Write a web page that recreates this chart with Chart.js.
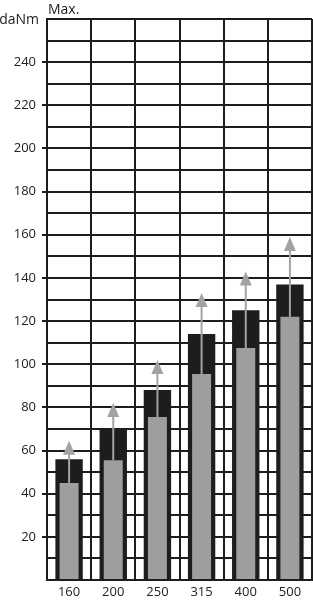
<!DOCTYPE html>
<html>
<head>
<meta charset="utf-8">
<script src="https://cdn.jsdelivr.net/npm/chart.js@4"></script>
<style>
  html, body { margin: 0; padding: 0; background: #fff; }
  #wrap { width: 313px; height: 600px; }
</style>
</head>
<body>
<div id="wrap"><canvas id="torqueChart"></canvas></div>
<script>
const sizes = ['160', '200', '250', '315', '400', '500'];
const maxTorque = [56, 70.5, 88, 114, 125, 137];
const nominalTorque = [45, 55.5, 75.5, 95.5, 107.5, 122];
const peakTorque = [64.5, 82, 102, 133, 143, 159];

const LINE = '#1e1c1d';

// stems + arrowheads from nominal up to peak
const arrowPlugin = {
  id: 'arrows',
  afterDatasetsDraw(chart) {
    const c = chart.ctx, x = chart.scales.x, y = chart.scales.y;
    c.save();
    c.fillStyle = '#a3a3a3';
    c.strokeStyle = '#a3a3a3';
    c.lineWidth = 2;
    peakTorque.forEach((v, i) => {
      const px = x.getPixelForValue(i);
      const top = y.getPixelForValue(v);
      const bottom = y.getPixelForValue(nominalTorque[i]);
      c.beginPath();
      c.moveTo(px, bottom);
      c.lineTo(px, top + 10);
      c.stroke();
      c.beginPath();
      c.moveTo(px, top);
      c.lineTo(px - 6, top + 14);
      c.lineTo(px + 6, top + 14);
      c.closePath();
      c.fill();
    });
    c.restore();
  }
};

const labelPlugin = {
  id: 'labels',
  afterDraw(chart) {
    const c = chart.ctx, a = chart.chartArea;
    c.save();
    c.fillStyle = '#222';
    c.font = "14px 'Open Sans', sans-serif";
    c.textBaseline = 'middle';
    c.textAlign = 'left';
    c.fillText('Max.', a.left + 1, 10);
    c.textAlign = 'right';
    c.fillText('daNm', a.left - 8, a.top + 1);
    c.restore();
  }
};

Chart.defaults.font.family = "'Open Sans', sans-serif";
Chart.defaults.font.size = 13;
Chart.defaults.color = '#222';

new Chart(document.getElementById('torqueChart'), {
  type: 'bar',
  data: {
    labels: sizes,
    datasets: [
      {
        label: 'Max',
        data: maxTorque,
        backgroundColor: LINE,
        barPercentage: 0.62,
        categoryPercentage: 1,
        grouped: false,
        order: 2
      },
      {
        label: 'Nominal',
        data: nominalTorque,
        backgroundColor: '#9e9e9e',
        barPercentage: 0.43,
        categoryPercentage: 1,
        grouped: false,
        order: 1
      }
    ]
  },
  options: {
    responsive: true,
    maintainAspectRatio: false,
    animation: false,
    layout: { padding: { top: 19, right: 1, left: 0, bottom: 0 } },
    plugins: { legend: { display: false }, tooltip: { enabled: false } },
    scales: {
      x: {
        grid: { color: LINE, lineWidth: 2, drawTicks: false, offset: true },
        border: { color: LINE, width: 2 },
        ticks: { padding: 4, color: '#222' },
        afterFit(s) { s.height = 20; }
      },
      y: {
        min: 0,
        max: 260,
        grid: {
          color: LINE,
          lineWidth: 2,
          tickLength: 5,
          tickColor: ctx => (ctx.tick && ctx.tick.value % 20 === 0 && ctx.tick.value > 0 && ctx.tick.value < 260) ? LINE : 'rgba(0,0,0,0)'
        },
        border: { color: LINE, width: 2 },
        ticks: {
          stepSize: 10,
          autoSkip: false,
          padding: 6,
          color: '#222',
          callback: v => (v % 20 === 0 && v > 0 && v < 260) ? v : ''
        },
        afterFit(s) { s.width = 47; }
      }
    }
  },
  plugins: [arrowPlugin, labelPlugin]
});
</script>
</body>
</html>
